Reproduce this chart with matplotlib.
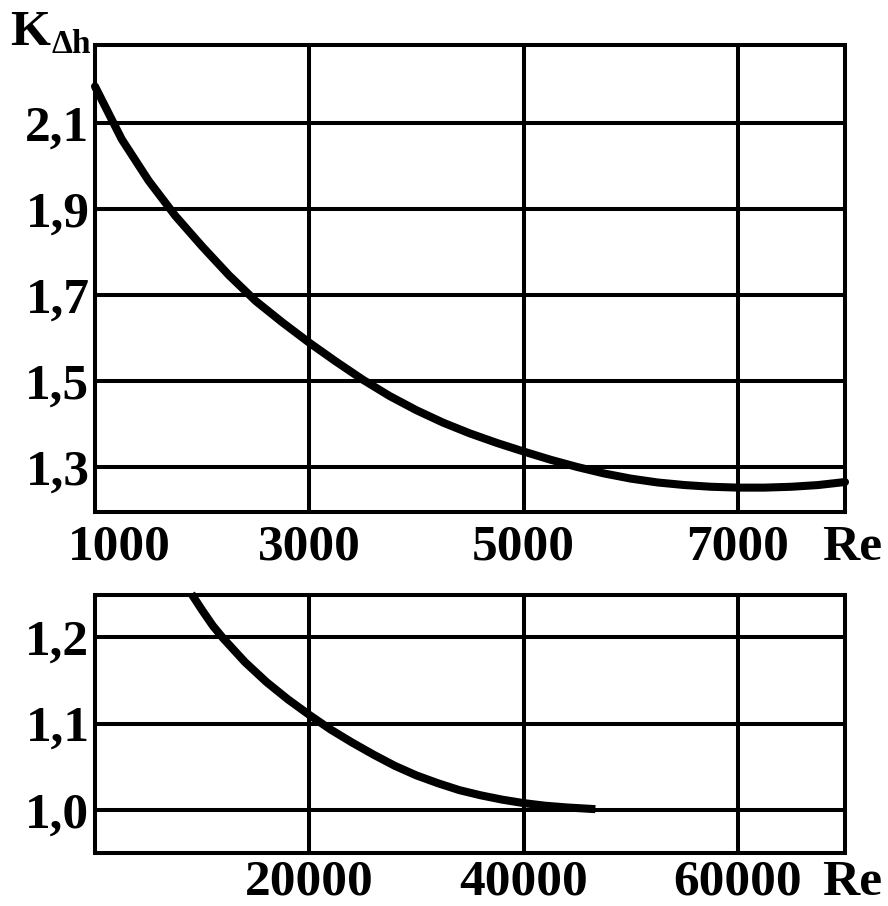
import matplotlib
matplotlib.use("Agg")
import matplotlib.pyplot as plt
from matplotlib.transforms import ScaledTranslation

# K_dh versus Re, low-Re range
re_low = [1000, 1250, 1500, 1750, 2000, 2250, 2500, 2750, 3000, 3250,
          3500, 3750, 4000, 4250, 4500, 4750, 5000, 5250, 5500, 5750,
          6000, 6250, 6500, 6750, 7000, 7250, 7500, 7750, 8000]
k_low = [2.185, 2.062, 1.966, 1.884, 1.813, 1.746, 1.686, 1.636, 1.589, 1.545,
         1.503, 1.465, 1.432, 1.403, 1.378, 1.356, 1.336, 1.317, 1.300, 1.285,
         1.273, 1.264, 1.258, 1.254, 1.252, 1.252, 1.254, 1.258, 1.265]

# K_dh versus Re, high-Re range
re_high = [9000, 10000, 11000, 12000, 14000, 16000, 18000, 20000, 22000, 24000,
           26000, 28000, 30000, 32000, 34000, 36000, 38000, 40000, 42000, 44000,
           46700]
k_high = [1.250, 1.231, 1.213, 1.198, 1.171, 1.148, 1.128, 1.110, 1.093, 1.078,
          1.064, 1.051, 1.040, 1.031, 1.023, 1.017, 1.012, 1.008, 1.005, 1.003,
          1.001]

top_xticks = [1000, 3000, 5000, 7000]
top_xlabels = ["1000", "3000", "5000", "7000"]
top_yticks = [1.3, 1.5, 1.7, 1.9, 2.1]
top_ylabels = ["1,3", "1,5", "1,7", "1,9", "2,1"]

bot_xticks = [20000, 40000, 60000]
bot_xlabels = ["20000", "40000", "60000"]
bot_yticks = [1.0, 1.1, 1.2]
bot_ylabels = ["1,0", "1,1", "1,2"]

FONT = "Liberation Serif"
FS = 37
LW_FRAME = 2.9
LW_CURVE = 5.8

W, H = 888, 906
fig = plt.figure(figsize=(W / 100, H / 100), dpi=100)
fig.patch.set_facecolor("white")


def px_box(left, top, right, bottom):
    return [left / W, 1 - bottom / H, (right - left) / W, (bottom - top) / H]


ax1 = fig.add_axes(px_box(95, 45, 845, 512))
ax2 = fig.add_axes(px_box(95, 595, 845, 853))

txt = dict(fontfamily=FONT, fontweight="bold", color="black")


def style(ax, xt, xl, yt, yl, xpad):
    ax.set_xticks(xt)
    ax.set_xticklabels(xl)
    ax.set_yticks(yt)
    ax.set_yticklabels(yl)
    ax.tick_params(length=0)
    ax.tick_params(axis="x", pad=xpad)
    ax.tick_params(axis="y", pad=4)
    for lab in ax.get_xticklabels() + ax.get_yticklabels():
        lab.set_fontfamily(FONT)
        lab.set_fontweight("bold")
        lab.set_fontsize(FS)
    for sp in ax.spines.values():
        sp.set_linewidth(LW_FRAME)
        sp.set_color("black")
    ax.grid(True, color="black", linewidth=LW_FRAME)
    ax.set_axisbelow(True)
    # axis name in line with the tick labels
    ax.annotate("Re", xy=(1, 0), xycoords="axes fraction",
                xytext=(-23, -xpad * 100 / 72), textcoords="offset pixels",
                ha="left", va="top", fontsize=FS, **txt)


style(ax1, top_xticks, top_xlabels, top_yticks, top_ylabels, 9)
ax1.set_xlim(1000, 8000)
ax1.set_ylim(1.1953, 2.2814)

style(ax2, bot_xticks, bot_xlabels, bot_yticks, bot_ylabels, 5)
ax2.set_xlim(0, 70000)
ax2.set_ylim(0.9503, 1.2486)

# shift the first label of the upper scale off the frame corner
first = ax1.get_xticklabels()[0]
first.set_transform(first.get_transform() + ScaledTranslation(24 / 100, 0, fig.dpi_scale_trans))

ax1.plot(re_low, k_low, color="black", linewidth=LW_CURVE,
         solid_capstyle="round", solid_joinstyle="round", clip_on=False, zorder=5)
ax2.plot(re_high, k_high, color="black", linewidth=LW_CURVE,
         solid_capstyle="butt", solid_joinstyle="round", clip_on=False, zorder=5)

fig.text(10 / W, 1 - 45 / H, "K", ha="left", va="baseline", fontsize=FS, **txt)
fig.text(51 / W, 1 - 53 / H, "Δh", ha="left", va="baseline", fontsize=24, **txt)

fig.savefig("out.png", dpi=100, facecolor="white")
